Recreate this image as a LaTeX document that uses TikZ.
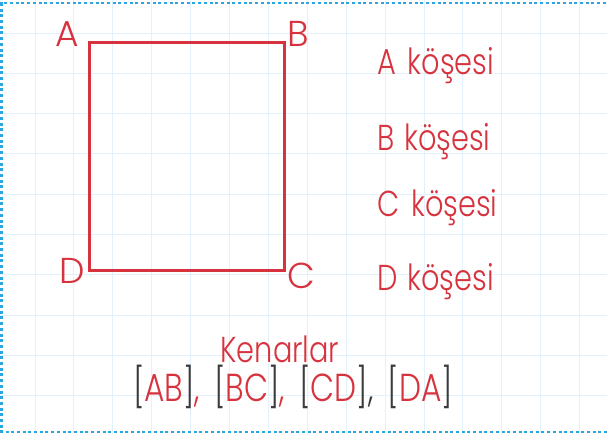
\documentclass[tikz,border=0pt]{standalone}
\usepackage{fontspec}
\setmainfont{Poppins}[UprightFont={* Light}]
\newfontfamily\dar{Poppins}[UprightFont={* Light}, FakeStretch=0.8]
\usetikzlibrary{positioning}
\definecolor{kirmizi}{HTML}{D7333E}
\definecolor{gridmavi}{HTML}{E2F1FB}
\definecolor{kenarmavi}{HTML}{2AA7E1}
\definecolor{koyugri}{HTML}{3B3B3B}
\newcommand{\ayrac}{\hspace{14pt}}
\tikzset{
  yazi/.style={font=\fontsize{36}{40}\selectfont, text=kirmizi, inner sep=0pt},
  dyazi/.style={font=\dar\fontsize{36}{40}\selectfont, text=kirmizi, inner sep=0pt},
  izgara/.style={gridmavi, line width=1pt},
}
\begin{document}
\begin{tikzpicture}[x=1pt,y=-1pt]
  \useasboundingbox (0,0) rectangle (607,434);
  % Grid
  \foreach \i in {0,...,14}
    \draw[izgara] (35+38.9*\i,0) -- (35+38.9*\i,434);
  \foreach \j in {0,...,9}
    \draw[izgara] (0,33+40.3*\j) -- (607,33+40.3*\j);
  \draw[kenarmavi, line width=2.5pt, dash pattern=on 3pt off 2.7pt] (640,3) -- (1.5,3) -- (1.5,432) -- (640,432);

  % Square
  \coordinate (A) at (89,42);
  \coordinate (B) at (284,42);
  \coordinate (C) at (284,270);
  \coordinate (D) at (89,270);
  \draw[kirmizi, line width=3pt] (A) -- (B) -- (C) -- (D) -- cycle;
  \node[yazi] (harfA) at (67,34) {A};
  \node[yazi] (harfB) at (298,34) {B};
  \node[yazi] (harfC) at (301,276) {C};
  \node[yazi] (harfD) at (72,271) {D};

  % Corner names
  \node[dyazi, anchor=base west] (koseA) at (377,74) {A\hspace{4pt} köşesi};
  \node[dyazi, anchor=base west] (koseB) at (377,150) {B\hspace{2pt} köşesi};
  \node[dyazi, anchor=base west] (koseC) at (377,216) {C\hspace{4pt} köşesi};
  \node[dyazi, anchor=base west] (koseD) at (377,290) {D\hspace{2pt} köşesi};

  % Sides
  \node[dyazi, anchor=base] (kenarlar) at (280,362) {Kenarlar};
  \node[dyazi, anchor=base, font=\dar\fontsize{39}{44}\selectfont] (liste) at (293,401)
    {\color{koyugri}[\color{kirmizi}AB\color{koyugri}]\color{kirmizi},\ayrac\color{koyugri}[\color{kirmizi}BC\color{koyugri}]\color{kirmizi},\ayrac\color{koyugri}[\color{kirmizi}CD\color{koyugri}],\ayrac[\color{kirmizi}DA\color{koyugri}]};
\end{tikzpicture}
\end{document}
